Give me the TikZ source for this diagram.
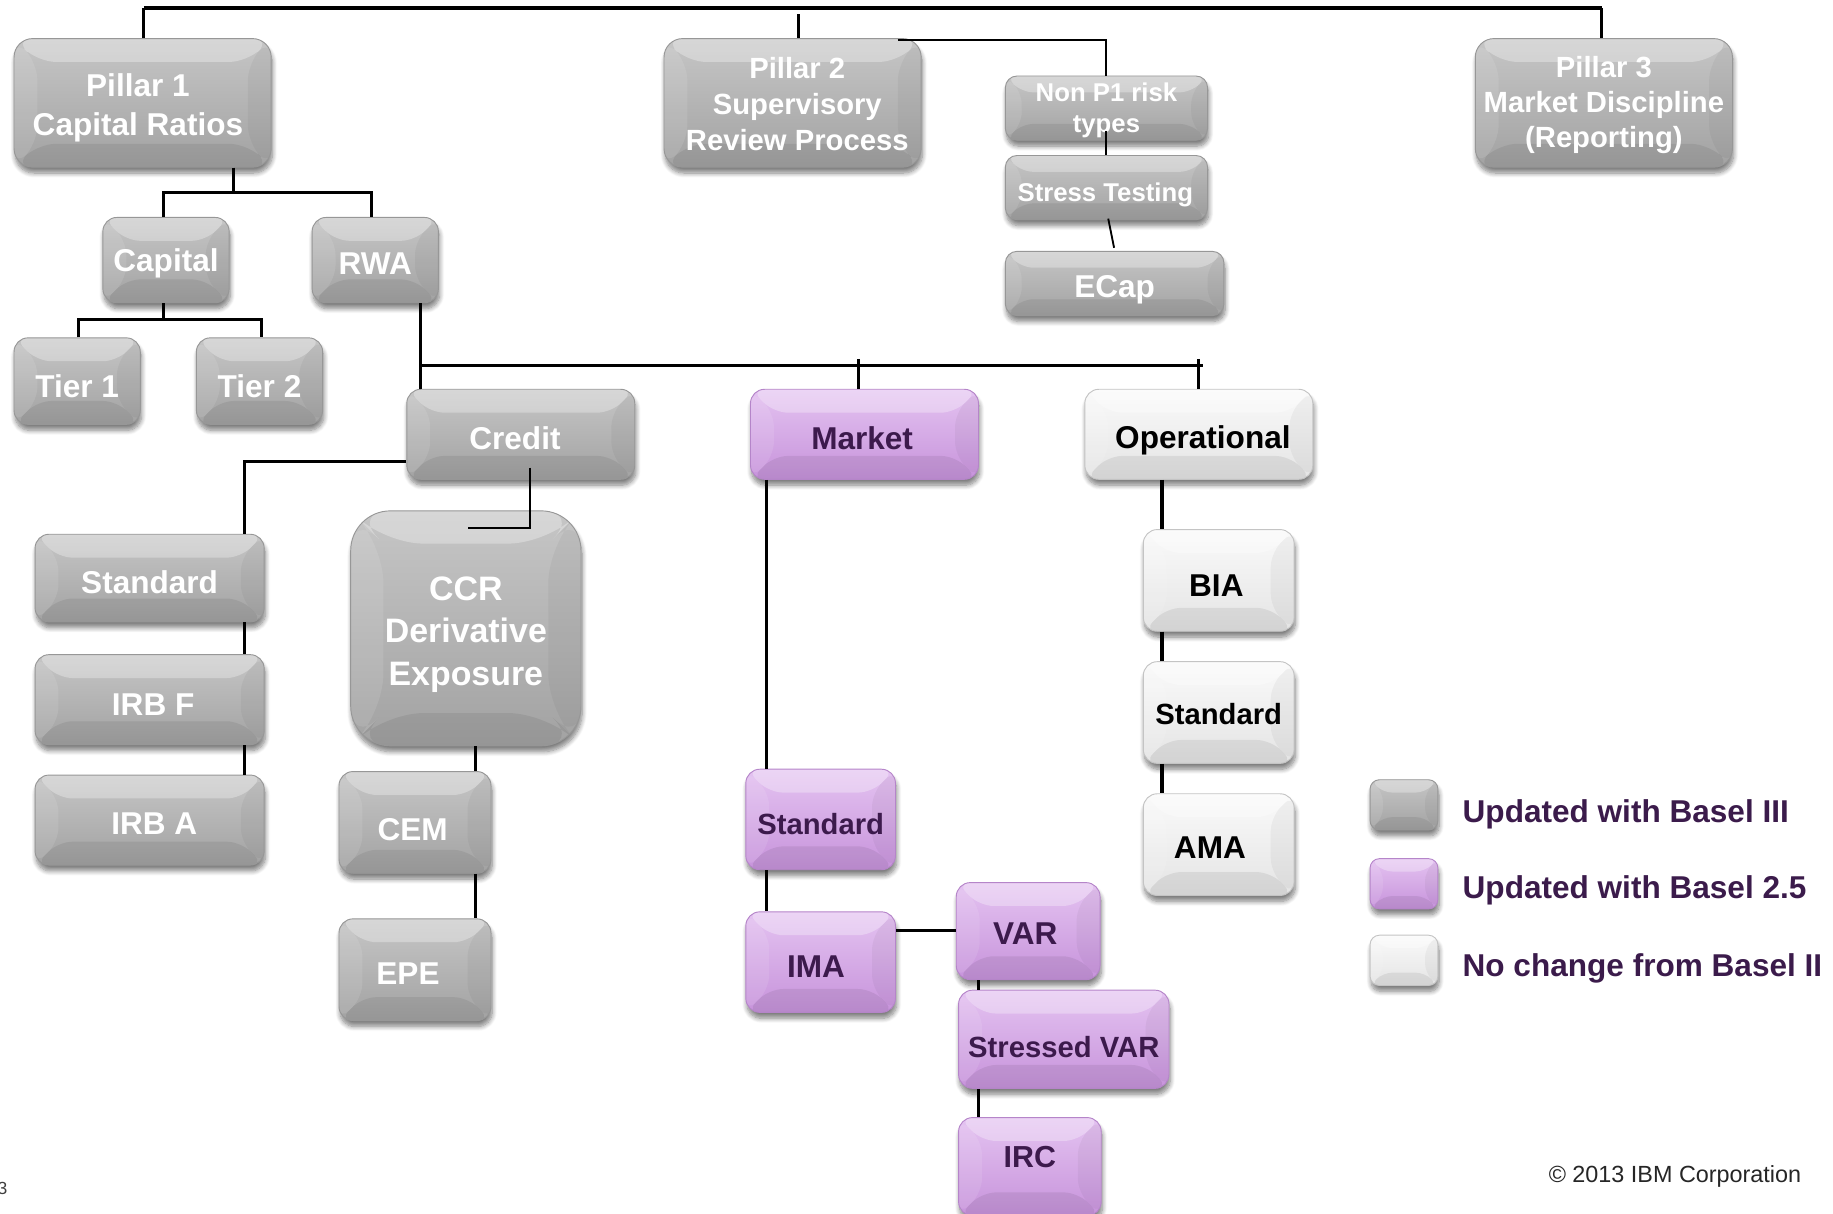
\documentclass[tikz,border=0pt]{standalone}
\usepackage{fontspec}
\setmainfont{Liberation Sans}
\usetikzlibrary{shadows.blur}

\definecolor{grayTop}{HTML}{C6C6C6}
\definecolor{grayBot}{HTML}{A2A2A2}
\definecolor{grayRim}{HTML}{979797}
\definecolor{purTop}{HTML}{E4C3F1}
\definecolor{purBot}{HTML}{C793DB}
\definecolor{purRim}{HTML}{B585C9}
\definecolor{whiTop}{HTML}{FAFAFA}
\definecolor{whiBot}{HTML}{E4E4E4}
\definecolor{whiRim}{HTML}{C4C4C4}
\definecolor{plumText}{HTML}{3C1A4C}
\definecolor{legendText}{HTML}{3B1B4B}

% bold label font of a given size and leading
\newcommand{\fz}[2]{\fontsize{#1}{#2}\selectfont\bfseries}
% invisible strut that lifts the first line's height (pushes the label down)
\newcommand{\lift}[1]{\rule{0pt}{#1}}
% invisible strut that adds depth below the last line (pushes the label up)
\newcommand{\sink}[1]{\rule[-#1]{0pt}{#1}}

\begin{document}
\begin{tikzpicture}[x=1pt,y=-1pt,
  link/.style={draw=black,line width=2.6pt},
  thinlink/.style={draw=black,line width=1.6pt},
  bevelled/.style={path picture={
    \path (path picture bounding box.north west) coordinate (bnw)
          (path picture bounding box.north east) coordinate (bne)
          (path picture bounding box.south west) coordinate (bsw)
          (path picture bounding box.south east) coordinate (bse);
    \fill[white,opacity=0.30] (bnw) -- (bne) -- ([shift={(-#1,-#1)}]bne) -- ([shift={(#1,-#1)}]bnw) -- cycle;
    \fill[black,opacity=0.07] (bsw) -- (bse) -- ([shift={(-#1,#1)}]bse) -- ([shift={(#1,#1)}]bsw) -- cycle;
    \fill[white,opacity=0.10] (bnw) -- ([shift={(#1,-#1)}]bnw) -- ([shift={(#1,#1)}]bsw) -- (bsw) -- cycle;
    \fill[black,opacity=0.04] (bne) -- ([shift={(-#1,-#1)}]bne) -- ([shift={(-#1,#1)}]bse) -- (bse) -- cycle;
  }},
  basebox/.style={rounded corners=12pt, inner sep=0pt, align=center, line width=0.8pt,
    blur shadow={shadow xshift=1pt, shadow yshift=-5pt, shadow blur radius=4pt,
                 shadow opacity=50, shadow blur steps=8}},
  gbox/.style={basebox, bevelled=#1, top color=grayTop, bottom color=grayBot, draw=grayRim, text=white},
  gbox/.default=20pt,
  pbox/.style={basebox, bevelled=#1, top color=purTop, bottom color=purBot, draw=purRim, text=plumText},
  pbox/.default=20pt,
  wbox/.style={basebox, bevelled=#1, top color=whiTop, bottom color=whiBot, draw=whiRim, text=black},
  wbox/.default=20pt,
  legendlabel/.style={anchor=west, inner sep=0pt, text=legendText, font=\fz{27}{31}}
]
\useasboundingbox (0,0) rectangle (1568,1038);

% ---------- the three pillars ----------
\node[gbox, minimum width=220pt, minimum height=110pt, rounded corners=16pt, font=\fz{27}{33}]
  (p1) at (122,88) {\lift{28pt}Pillar 1\hspace*{8pt}\\Capital Ratios\hspace*{8pt}};
\node[gbox, minimum width=220pt, minimum height=110pt, rounded corners=16pt, font=\fz{25}{31}]
  (p2) at (678,88) {\lift{20pt}\hspace*{8pt}Pillar 2\\\hspace*{8pt}Supervisory\\\hspace*{8pt}Review Process};
\node[gbox, minimum width=220pt, minimum height=110pt, rounded corners=16pt, font=\fz{25}{30}]
  (p3) at (1372,88) {\lift{22pt}Pillar 3\\Market Discipline\\(Reporting)};

% ---------- pillar 2 branch ----------
\node[gbox=14pt, minimum width=173pt, minimum height=55pt, rounded corners=10pt, font=\fz{22}{27}]
  (np1) at (946.5,92.5) {\lift{20pt}Non P1 risk\\types};
\node[gbox=14pt, minimum width=173pt, minimum height=55pt, rounded corners=10pt, font=\fz{22}{27}]
  (st) at (946.5,160.5) {\lift{28pt}Stress Testing\hspace*{2pt}};
\node[gbox=14pt, minimum width=187pt, minimum height=55pt, rounded corners=10pt, font=\fz{27}{31}]
  (ecap) at (953.5,242.5) {\lift{29.5pt}ECap};

% ---------- pillar 1 branch ----------
\node[gbox, minimum width=108pt, minimum height=73pt, font=\fz{27}{31}] (cap) at (142,222.5) {\lift{25.5pt}Capital};
\node[gbox, minimum width=108pt, minimum height=73pt, font=\fz{27}{31}] (rwa) at (321,222.5) {\lift{24.5pt}RWA};
\node[gbox, minimum width=108pt, minimum height=74pt, font=\fz{27}{31}] (t1) at (66,326) {\lift{27.5pt}Tier 1};
\node[gbox, minimum width=108pt, minimum height=74pt, font=\fz{27}{31}] (t2) at (222,326) {\lift{27.5pt}Tier 2};

% ---------- risk types ----------
\node[gbox, minimum width=195pt, minimum height=77pt, font=\fz{27}{31}] (credit) at (445.5,371.5) {\lift{25.5pt}Credit\hspace*{10pt}};
\node[pbox, minimum width=195pt, minimum height=77pt, font=\fz{27}{31}] (market) at (739.5,371.5) {\lift{25.5pt}Market\hspace*{4pt}};
\node[wbox, minimum width=195pt, minimum height=77pt, font=\fz{27}{31}] (oper) at (1025.5,371.5) {\lift{29.5pt}\hspace*{7pt}Operational};

% ---------- credit ----------
\node[gbox, minimum width=196pt, minimum height=75pt, font=\fz{27}{31}] (cstd) at (128,494.5) {\lift{26pt}Standard};
\node[gbox, minimum width=196pt, minimum height=77pt, font=\fz{27}{31}] (irbf) at (128,598.5) {\lift{27.5pt}\hspace*{6pt}IRB F};
\node[gbox, minimum width=196pt, minimum height=77pt, font=\fz{27}{31}] (irba) at (128,701.5) {\lift{24pt}\hspace*{8pt}IRB A};
\node[gbox=28pt, minimum width=197pt, minimum height=201pt, rounded corners=34pt, font=\fz{29}{36}]
  (ccr) at (398.5,537.5) {\lift{31pt}CCR\\Derivative\\Exposure};
\node[gbox, minimum width=130pt, minimum height=87pt, font=\fz{27}{31}] (cem) at (355,703.5) {\lift{32pt}CEM\hspace*{4pt}};
\node[gbox, minimum width=130pt, minimum height=87pt, font=\fz{27}{31}] (epe) at (355,829.5) {\lift{24.5pt}EPE\hspace*{12pt}};

% ---------- market ----------
\node[pbox, minimum width=128pt, minimum height=86pt, font=\fz{25}{29}] (mstd) at (702,701) {\lift{26pt}Standard};
\node[pbox, minimum width=128pt, minimum height=86pt, font=\fz{27}{31}] (ima) at (702,823) {\lift{25.5pt}IMA\hspace*{8pt}};
\node[pbox, minimum width=123pt, minimum height=83pt, font=\fz{27}{31}] (var) at (879.5,796.5) {\lift{23.5pt}VAR\hspace*{5pt}};
\node[pbox, minimum width=180pt, minimum height=84pt, font=\fz{25}{29}] (svar) at (910,889) {\lift{32pt}Stressed VAR};
\node[pbox, minimum width=122pt, minimum height=84pt, font=\fz{26}{30}] (irc) at (881,998) {IRC\sink{16pt}};

% ---------- operational ----------
\node[wbox, minimum width=129pt, minimum height=87pt, font=\fz{27}{31}] (bia) at (1042.5,496.5) {\lift{27.5pt}BIA\hspace*{4pt}};
\node[wbox, minimum width=129pt, minimum height=87pt, font=\fz{25}{29}] (ostd) at (1042.5,609.5) {\lift{20.5pt}Standard};
\node[wbox, minimum width=129pt, minimum height=87pt, font=\fz{27}{31}] (ama) at (1042.5,722.5) {\lift{23.5pt}AMA\hspace*{15pt}};

% ---------- legend ----------
\node[gbox=11pt, minimum width=58pt, minimum height=43pt, rounded corners=8pt] (lg1) at (1201,688.5) {};
\node[pbox=11pt, minimum width=58pt, minimum height=43pt, rounded corners=8pt] (lg2) at (1201,756) {};
\node[wbox=11pt, minimum width=58pt, minimum height=43pt, rounded corners=8pt] (lg3) at (1201,821.5) {};
\node[legendlabel] (lt1) at (1251,697) {Updated with Basel III};
\node[legendlabel] (lt2) at (1251,762) {Updated with Basel 2.5};
\node[legendlabel] (lt3) at (1251,828) {No change from Basel II};

% ---------- footer ----------
\node[anchor=east, inner sep=0pt, font=\fontsize{20}{24}\selectfont, text=black!85] (copy) at (1541,1006) {\textcopyright{} 2013 IBM Corporation};
\node[anchor=east, inner sep=0pt, font=\fontsize{15}{18}\selectfont, text=black!75] (pg) at (6.5,1017) {3};

% ---------- connectors ----------
\coordinate (topL) at (123,7);
\coordinate (topM) at (683,7);
\coordinate (topR) at (1370,7);
\draw[link, line width=3pt] (topL) -- (topR);
\draw[link] (topL) -- (topL |- p1.north);
\draw[link] ([yshift=-5pt]topM) -- (topM |- p2.north);
\draw[link] (topR) -- (topR |- p3.north);

% pillar 1 to capital / RWA
\coordinate (j1) at (200,165);
\draw[link] (j1 |- p1.south) -- (j1);
\draw[link] (cap.north -| 140,0) |- (j1) -| (rwa.north -| 318,0);

% capital to tiers
\coordinate (j2) at (140,273);
\draw[link] (j2 |- cap.south) -- (j2);
\draw[link] (t1.north -| 67,0) |- (j2) -| (t2.north -| 224,0);

% RWA to risk types
\coordinate (j3) at (360,313);
\coordinate (j3e) at (1029,313);
\coordinate (mk) at (734,307);
\coordinate (op) at (1025,307);
\draw[link] (j3 |- rwa.south) -- (j3 |- credit.north);
\draw[link] (j3) -- (j3e);
\draw[link] (mk) -- (mk |- market.north);
\draw[link] (op) -- (op |- oper.north);

% credit branch
\coordinate (j4) at (209,395);
\draw[link] (j4 -| credit.west) -- (j4) -- (j4 |- cstd.north);
\draw[link] (j4 |- cstd.south) -- (j4 |- irbf.north);
\draw[link] (j4 |- irbf.south) -- (j4 |- irba.north);
\coordinate (k1) at (453,400);
\coordinate (k2) at (400,452);
\draw[thinlink] (k1) |- (k2);
\coordinate (k3) at (407,0);
\draw[link] (k3 |- ccr.south) -- (k3 |- cem.north);
\draw[link] (k3 |- cem.south) -- (k3 |- epe.north);

% market branch
\coordinate (m1) at (656,0);
\draw[link] (m1 |- market.south) -- (m1 |- mstd.north);
\draw[link] (m1 |- mstd.south) -- (m1 |- ima.north);
\coordinate (m2) at (0,796);
\draw[link] (m2 -| ima.east) -- (m2 -| var.west);
\coordinate (m3) at (837,0);
\draw[link] (m3 |- var.south) -- (m3 |- svar.north);
\draw[link] (m3 |- svar.south) -- (m3 |- irc.north);

% operational branch
\coordinate (o1) at (994,0);
\draw[link] (o1 |- oper.south) -- (o1 |- bia.north);
\draw[link] (o1 |- bia.south) -- (o1 |- ostd.north);
\draw[link] (o1 |- ostd.south) -- (o1 |- ama.north);

% pillar 2 branch
\coordinate (q1) at (768,34);
\coordinate (q2) at (946,0);
\draw[thinlink] (q1) -| (q2 |- np1.north);
\draw[thinlink] (946,112) -- (q2 |- st.north);
\draw[thinlink] (948,187) -- (953,212);
\end{tikzpicture}
\end{document}
